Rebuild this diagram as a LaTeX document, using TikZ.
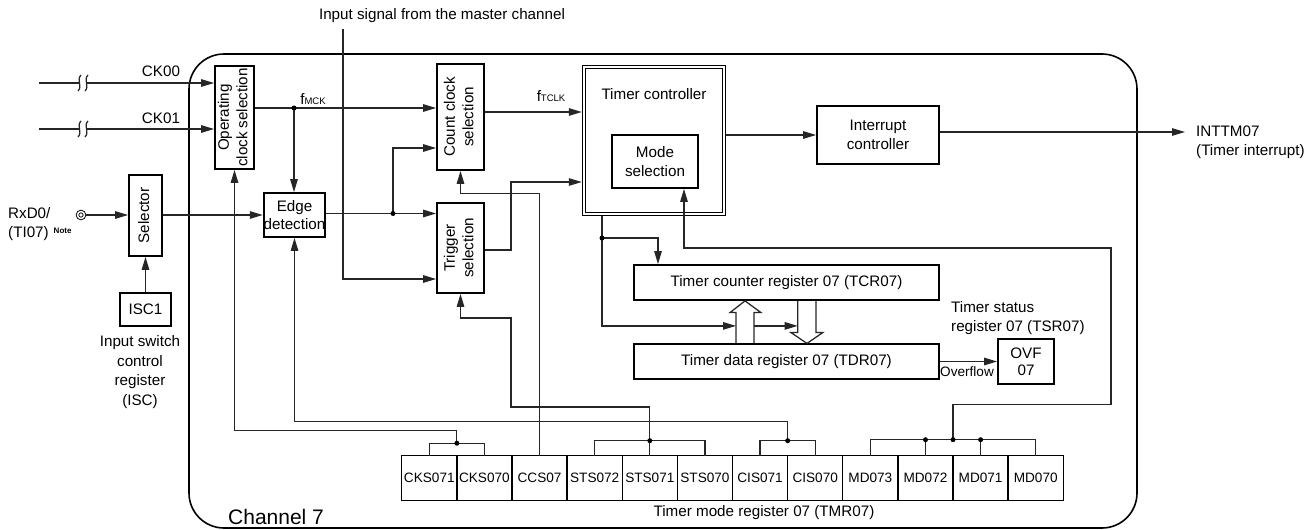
\documentclass[tikz,border=0pt]{standalone}
\usepackage{fontspec}
\setmainfont{Liberation Sans}
\usetikzlibrary{arrows.meta, positioning, calc}

\newcommand{\tmfont}{\fontsize{15.2}{18.5}\selectfont}
\newcommand{\regfont}{\fontsize{13.6}{16}\selectfont}
\newcommand{\sigsub}[1]{\raisebox{-0.6pt}{\fontsize{9.5}{9.5}\selectfont #1}}
\newcommand{\vlabel}[1]{\rotatebox{90}{\begin{tabular}{@{}c@{}}#1\end{tabular}}}

\begin{document}
\begin{tikzpicture}[x=1pt, y=-1pt,
    blk/.style={rectangle, draw=black, line width=1.8pt, inner sep=0pt,
                align=center, font=\tmfont},
    fld/.style={rectangle, draw=black, line width=1.4pt, inner sep=0pt, outer sep=0pt,
                minimum width=55.13pt, minimum height=45pt, font=\regfont},
    lbl/.style={inner sep=0pt, font=\tmfont},
    wire/.style={line width=1.25pt, black!85},
    arrow/.style={-{Triangle[length=13pt, width=7.5pt]}, line width=1.25pt, black!85},
    hollow/.style={draw=black!85, line width=1.25pt, line join=miter}
  ]
    \useasboundingbox (0,0) rectangle (1307,530);

    % channel frame
    \draw[line width=1.6pt, rounded corners=35pt] (189,54) rectangle (1137,528);
    \node[lbl, anchor=west, font=\fontsize{21}{24}\selectfont] (chlbl) at (228,517) {Channel 7};

    % blocks
    \node[blk, minimum width=39pt, minimum height=103pt] (opcs) at (234.5,117.5) {\vlabel{Operating\\clock selection}};
    \node[blk, minimum width=47pt, minimum height=106pt] (ccs) at (460.5,117) {\vlabel{Count clock\\selection}};
    \node[blk, minimum width=47pt, minimum height=90pt] (trig) at (460.5,248) {\vlabel{Trigger\\selection}};
    \node[blk, minimum width=33pt, minimum height=81pt] (sel) at (145.5,215.5) {\vlabel{Selector}};
    \node[blk, minimum width=51pt, minimum height=33pt] (isc) at (145.5,309.5) {ISC1};
    \node[blk, minimum width=61pt, minimum height=44pt] (edge) at (294.5,215) {Edge\\detection};
    \node[blk, minimum width=140pt, minimum height=147pt, line width=1.3pt,
          double, double distance=1.8pt, outer sep=2.2pt] (tctl) at (654,140.5) {};
    \node[lbl] (tctllbl) at (654,94) {Timer controller};
    \node[blk, minimum width=86pt, minimum height=53pt] (mode) at (655,161.5) {Mode\\selection};
    \node[blk, minimum width=122pt, minimum height=58pt] (intc) at (878,135) {Interrupt\\controller};
    \node[blk, minimum width=305pt, minimum height=35pt] (tcr) at (786.5,282.5) {Timer counter register 07 (TCR07)};
    \node[blk, minimum width=305pt, minimum height=35pt] (tdr) at (786.5,361.5) {Timer data register 07 (TDR07)};
    \node[blk, minimum width=56pt, minimum height=45pt, font=\fontsize{15.2}{17}\selectfont] (ovf) at (1026,361.5) {OVF\\07};

    % timer mode register fields
    \node[fld] (r1) at (429.3,478.2) {CKS071};
    \foreach \lab [count=\i from 2] in {CKS070,CCS07,STS072,STS071,STS070,CIS071,CIS070,MD073,MD072,MD071,MD070} {
      \pgfmathtruncatemacro\j{\i-1}
      \node[fld, right=0pt of r\j] (r\i) {\lab};
    }
    \node[lbl] (tmrlbl) at (764,513) {Timer mode register 07 (TMR07)};

    % texts
    \node[lbl] (mstlbl) at (442,16) {Input signal from the master channel};
    \node[lbl] (ck0lbl) at (161,71) {CK00};
    \node[lbl] (ck1lbl) at (161,118) {CK01};
    \node[lbl] (mcklbl) at (313,99) {f\sigsub{MCK}};
    \node[lbl] (tclklbl) at (551,96) {f\sigsub{TCLK}};
    \node[lbl, align=left, anchor=west] (rxdlbl) at (8,224)
      {RxD0/\\(TI07)\hspace{5pt}{\fontsize{8}{8}\selectfont\bfseries\raisebox{4pt}{Note}}};
    \node[lbl, align=center, font=\fontsize{15.2}{19.5}\selectfont] (isclbl) at (140,372)
      {Input switch\\control\\register\\(ISC)};
    \node[lbl, align=left, anchor=west, font=\fontsize{15.2}{19}\selectfont] (intlbl) at (1196,142)
      {INTTM07\\(Timer interrupt)};
    \node[lbl, align=left, anchor=west, font=\fontsize{15.2}{19}\selectfont] (tsrlbl) at (951,318.5)
      {Timer status\\register 07 (TSR07)};
    \node[lbl, anchor=north west, font=\regfont] (ovflbl) at (940,366) {Overflow};

    % clock inputs
    \coordinate (ck0) at (39,83);
    \coordinate (ck1) at (39,129);
    \foreach \c in {ck0,ck1} {
      \draw[wire] (\c) -- ++(40,0);
      \draw[wire] ($(\c)+(42,-8)$) .. controls ($(\c)+(37,-3)$) and ($(\c)+(44,3)$) .. ($(\c)+(39,8)$);
      \draw[wire] ($(\c)+(49,-8)$) .. controls ($(\c)+(44,-3)$) and ($(\c)+(51,3)$) .. ($(\c)+(46,8)$);
      \draw[arrow] ($(\c)+(47,0)$) -- (opcs.west |- \c);
    }

    % clock path
    \coordinate (mck) at (294,108);
    \draw[arrow] (opcs.east |- mck) -- (mck) -- (ccs.west |- mck);
    \draw[arrow] (mck) -- (mck |- edge.north);
    \fill (mck) circle (2.5pt);
    \coordinate (tclk) at (0,112);
    \draw[arrow] (ccs.east |- tclk) -- (tctl.west |- tclk);

    % input pin path
    \node[circle, draw, double, line width=0.9pt, double distance=1.5pt,
          inner sep=0pt, minimum size=7pt] (rxd) at (81,215) {};
    \draw[arrow] (rxd) -- (sel.west |- rxd);
    \draw[arrow] (sel.east |- rxd) -- (edge.west |- rxd);
    \draw[arrow] (isc) -- (sel);

    % edge detection output
    \coordinate (edj) at (393,213.5);
    \coordinate (edb) at (393,148);
    \draw[arrow] (edge.east |- edj) -- (edj) -- (trig.west |- edj);
    \draw[arrow] (edj) -- (edb) -- (ccs.west |- edb);
    \fill (edj) circle (2.5pt);

    % master channel input
    \coordinate (mst) at (343,29);
    \coordinate (mstb) at (343,279);
    \draw[arrow] (mst) -- (mstb) -- (trig.west |- mstb);

    % trigger to timer controller
    \coordinate (tga) at (511,250);
    \coordinate (tgb) at (511,182);
    \draw[arrow] (trig.east |- tga) -- (tga) -- (tgb) -- (tctl.west |- tgb);

    % interrupt
    \draw[arrow] (tctl.east |- intc) -- (intc.west);
    \coordinate (intout) at (1185,132);
    \draw[arrow] (intc.east |- intout) -- (intout);

    % counter / data register transfer
    \begin{scope}[shift={(tcr.south)}]
      \draw[hollow] (-50.5,42.5) -- (-50.5,11.7) -- (-56.5,11.7) -- (-41.5,0) -- (-25.5,11.7) -- (-32.5,11.7) -- (-32.5,42.5);
      \draw[hollow] (11.2,0) -- (11.2,31.7) -- (4.5,31.7) -- (20.5,42.5) -- (36.2,31.7) -- (29.5,31.7) -- (29.5,0);
      \coordinate (upl) at (-50.5,25);
      \coordinate (upr) at (-32.5,25);
      \coordinate (dnl) at (11.2,25);
    \end{scope}
    \draw[arrow] (upr) -- (dnl);

    \coordinate (tca) at (602,238);
    \coordinate (tcb) at (658,238);
    \draw[wire] (tca |- tctl.south) -- (tca);
    \draw[arrow] (tca) -- (tcb) -- (tcb |- tcr.north);
    \draw[arrow] (tca) -- (tca |- upl) -- (upl);
    \fill (tca) circle (2.5pt);

    \draw[arrow] (tdr.east) -- (ovf.west |- tdr.east);

    % CKS bits -> operating clock selection
    \coordinate (cksj) at ($(r1.north east)+(0,-12.5)$);
    \draw[wire] (r1.north) |- (cksj) -| (r2.north);
    \draw[arrow] (cksj) -- ++(0,-12.5) -| (opcs.south);
    \fill (cksj) circle (2.5pt);

    % CCS bit -> count clock selection
    \draw[arrow] (r3.north) -- ++(0,-262.5) -| (ccs.south);

    % STS bits -> trigger selection
    \coordinate (stsj) at ($(r5.north)+(0,-15)$);
    \coordinate (tra) at (511,407);
    \coordinate (trb) at (511,318);
    \draw[wire] (r4.north) |- (stsj) -| (r6.north);
    \draw[wire] (r5.north) -- (stsj);
    \draw[arrow] (stsj) |- (tra) -- (trb) -| (trig.south);
    \fill (stsj) circle (2.5pt);

    % CIS bits -> edge detection
    \coordinate (cisj) at ($(r7.north east)+(0,-15)$);
    \draw[wire] (r7.north) |- (cisj) -| (r8.north);
    \draw[arrow] (cisj) -- ++(0,-19) -| (edge.south);
    \fill (cisj) circle (2.5pt);

    % MD bits -> mode selection
    \coordinate (mdj) at ($(r10.north east)+(0,-16)$);
    \coordinate (mda) at (1111,248);
    \coordinate (mdb) at (684,248);
    \draw[wire] (r9.north) |- (mdj) -| (r12.north);
    \draw[wire] (r10.north) -- (r10.north |- mdj);
    \draw[wire] (r11.north) -- (r11.north |- mdj);
    \draw[arrow] (mdj) -- ++(0,-35.5) -| (mda) -- (mdb) -- (mdb |- mode.south);
    \fill (mdj) circle (2.5pt);
    \fill (r10.north |- mdj) circle (2.5pt);
    \fill (r11.north |- mdj) circle (2.5pt);
  \end{tikzpicture}
\end{document}
